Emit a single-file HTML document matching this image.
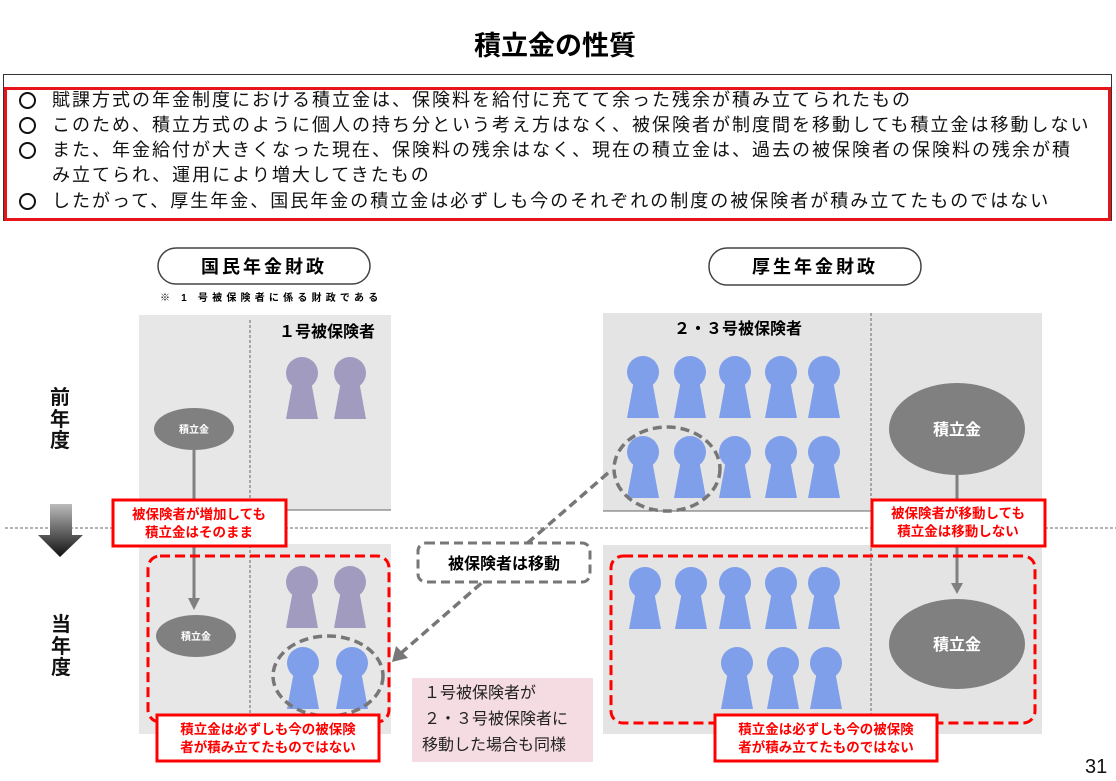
<!DOCTYPE html>
<html><head><meta charset="utf-8"><style>
body{margin:0;background:#fff;width:1116px;height:781px;overflow:hidden;font-family:"Liberation Sans","Noto Sans CJK JP",sans-serif}
svg text{font-family:"Liberation Sans","Noto Sans CJK JP",sans-serif}
.l{position:absolute;left:52px;font-size:18px;letter-spacing:2px;color:#111;white-space:nowrap;line-height:24px}
.c{position:absolute;left:19px;width:13px;height:13px;border:2px solid #111;border-radius:50%}
</style></head><body>
<div style="position:absolute;left:0;top:24px;width:1110px;text-align:center;font-size:27px;font-weight:bold">積立金の性質</div>
<div style="position:absolute;left:3px;top:74px;width:1109px;height:147px;border:1px solid #333;box-sizing:border-box"></div>
<div style="position:absolute;left:4px;top:87px;width:1107px;height:134px;border:3px solid #e8141c;box-sizing:border-box"></div>
<div class="c" style="top:92px"></div><div class="l" style="top:88px">賦課方式の年金制度における積立金は、保険料を給付に充てて余った残余が積み立てられたもの</div>
<div class="c" style="top:117px"></div><div class="l" style="top:113px">このため、積立方式のように個人の持ち分という考え方はなく、被保険者が制度間を移動しても積立金は移動しない</div>
<div class="c" style="top:142px"></div><div class="l" style="top:138px">また、年金給付が大きくなった現在、保険料の残余はなく、現在の積立金は、過去の被保険者の保険料の残余が積</div>
<div class="l" style="top:163px">み立てられ、運用により増大してきたもの</div>
<div class="c" style="top:193px"></div><div class="l" style="top:189px">したがって、厚生年金、国民年金の積立金は必ずしも今のそれぞれの制度の被保険者が積み立てたものではない</div>
<svg width="1116" height="781" style="position:absolute;left:0;top:0" xmlns="http://www.w3.org/2000/svg">
<defs>
<linearGradient id="ga" x1="0" y1="0" x2="0" y2="1"><stop offset="0" stop-color="#bbb"/><stop offset="1" stop-color="#111"/></linearGradient>
<g id="pb"><circle cx="0" cy="0" r="16"/><polygon points="-9,8 9,8 16,46 -16,46"/></g>
</defs>
<rect x="158" y="248" width="212" height="36" rx="18" fill="#fff" stroke="#444" stroke-width="1.5"/>
<text x="264" y="273" text-anchor="middle" font-size="18" font-weight="bold" letter-spacing="3">国民年金財政</text>
<rect x="709" y="248" width="212" height="37" rx="18" fill="#fff" stroke="#444" stroke-width="1.5"/>
<text x="815" y="273" text-anchor="middle" font-size="18" font-weight="bold" letter-spacing="3">厚生年金財政</text>
<text x="160" y="301" font-size="10" font-weight="bold" letter-spacing="4.2">※ 1 号被保険者に係る財政である</text>
<rect x="139" y="315" width="252" height="195" fill="#e7e7e7"/>
<rect x="139" y="544" width="252" height="190" fill="#e7e7e7"/>
<rect x="603" y="313" width="439" height="198" fill="#e4e4e4"/>
<rect x="603" y="545" width="439" height="189" fill="#e4e4e4"/>
<line x1="139" y1="510" x2="391" y2="510" stroke="#666"/>
<line x1="603" y1="511" x2="1042" y2="511" stroke="#666"/>
<g stroke="#666" stroke-dasharray="3,2" stroke-width="1">
<line x1="250" y1="320" x2="250" y2="730"/>
<line x1="871" y1="313" x2="871" y2="734"/>
<line x1="5" y1="528" x2="1116" y2="528"/>
</g>
<text x="327" y="337" text-anchor="middle" font-size="16" font-weight="bold">１号被保険者</text>
<text x="738" y="334" text-anchor="middle" font-size="16" font-weight="bold">２・３号被保険者</text>
<g fill="#a09bbf">
<use href="#pb" x="302" y="373"/><use href="#pb" x="350" y="373"/>
<use href="#pb" x="302" y="582"/><use href="#pb" x="350" y="582"/>
</g>
<g fill="#7f9fea">
<use href="#pb" x="303" y="663"/><use href="#pb" x="352" y="663"/>
<use href="#pb" x="643" y="372"/><use href="#pb" x="690" y="372"/><use href="#pb" x="735" y="372"/><use href="#pb" x="781" y="372"/><use href="#pb" x="824" y="372"/>
<use href="#pb" x="643" y="452"/><use href="#pb" x="690" y="452"/><use href="#pb" x="735" y="452"/><use href="#pb" x="781" y="452"/><use href="#pb" x="824" y="452"/>
<use href="#pb" x="645" y="583"/><use href="#pb" x="691" y="583"/><use href="#pb" x="735" y="583"/><use href="#pb" x="781" y="583"/><use href="#pb" x="824" y="583"/>
<use href="#pb" x="737" y="663"/><use href="#pb" x="783" y="663"/><use href="#pb" x="826" y="663"/>
</g>
<g stroke="#808080" stroke-width="3">
<line x1="194" y1="450" x2="194" y2="600"/>
<line x1="957" y1="470" x2="957" y2="585"/>
</g>
<polygon points="188,598 200,598 194,610" fill="#808080"/>
<polygon points="951,583 963,583 957,594" fill="#808080"/>
<g fill="#808080">
<ellipse cx="194" cy="429" rx="40" ry="21"/><ellipse cx="196" cy="636" rx="40" ry="21"/>
<ellipse cx="957" cy="429" rx="68" ry="46"/><ellipse cx="957" cy="644" rx="68" ry="45"/>
</g>
<g fill="#fff" font-weight="bold" text-anchor="middle">
<text x="194" y="433" font-size="10">積立金</text><text x="196" y="640" font-size="10">積立金</text>
<text x="957" y="435" font-size="16">積立金</text><text x="957" y="650" font-size="16">積立金</text>
</g>
<g fill="none" stroke="#f00" stroke-width="3" stroke-dasharray="10,5">
<rect x="148" y="556" width="241" height="166" rx="12"/>
<rect x="611" y="556" width="424" height="167" rx="12"/>
</g>
<g fill="none" stroke="#777" stroke-width="3.5" stroke-dasharray="9,5">
<ellipse cx="328" cy="676" rx="55" ry="40"/>
<ellipse cx="667" cy="469" rx="53" ry="42"/>
<line x1="608" y1="473" x2="400" y2="654"/>
</g>
<polygon points="392,662 396,646 408,658" fill="#777"/>
<rect x="418" y="543" width="172" height="39" rx="8" fill="#fff" stroke="#777" stroke-width="3" stroke-dasharray="9,5"/>
<text x="504" y="569" text-anchor="middle" font-size="16" font-weight="bold">被保険者は移動</text>
<rect x="412" y="678" width="181" height="84" fill="#f5dce2"/>
<g font-size="16" fill="#222">
<text x="424" y="698">１号被保険者が</text>
<text x="424" y="724">２・３号被保険者に</text>
<text x="422" y="750">移動した場合も同様</text>
</g>
<g fill="#fff" stroke="#f00" stroke-width="3">
<rect x="113" y="500" width="173" height="46"/>
<rect x="872" y="500" width="173" height="46"/>
<rect x="157" y="715" width="222" height="46"/>
<rect x="715" y="715" width="222" height="46"/>
</g>
<g fill="#f00" font-size="13.5" font-weight="bold" text-anchor="middle">
<text x="199" y="519">被保険者が増加しても</text><text x="199" y="537">積立金はそのまま</text>
<text x="958" y="518">被保険者が移動しても</text><text x="958" y="536">積立金は移動しない</text>
<text x="268" y="734">積立金は必ずしも今の被保険</text><text x="268" y="752">者が積み立てたものではない</text>
<text x="826" y="734">積立金は必ずしも今の被保険</text><text x="826" y="752">者が積み立てたものではない</text>
</g>
<g font-size="20" font-weight="bold" text-anchor="middle" fill="#111">
<text x="60" y="404">前</text><text x="60" y="426">年</text><text x="60" y="447">度</text>
<text x="61" y="631">当</text><text x="61" y="653">年</text><text x="61" y="674">度</text>
</g>
<polygon points="50,504 72,504 72,535 83,535 60,557 38,535 50,535" fill="url(#ga)"/>
<text x="1085" y="773" font-size="20" fill="#111">31</text>
</svg>
</body></html>
